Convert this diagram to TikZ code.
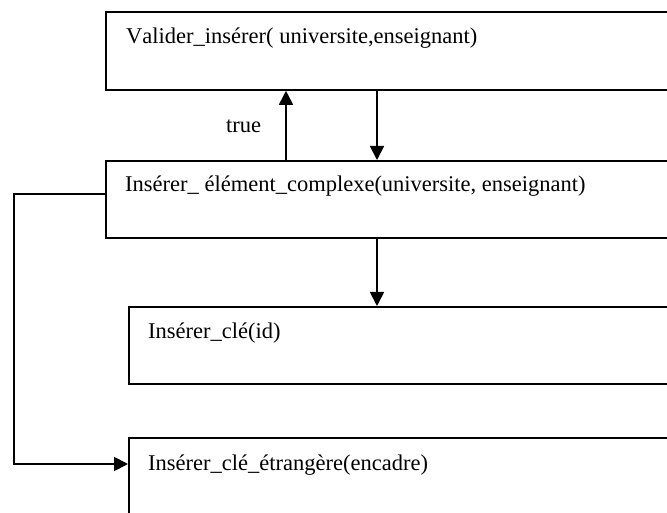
\documentclass[tikz,border=0pt]{standalone}
\usepackage{fontspec}
\setmainfont{Liberation Serif}[Kerning=Off]
\usetikzlibrary{arrows.meta}
\begin{document}
\begin{tikzpicture}[x=1pt,y=1pt,
  boxstyle/.style={draw,line width=1.8pt,rectangle,inner sep=0pt,anchor=north west,minimum width=620pt},
  txt/.style={anchor=base west,inner sep=0pt,font=\fontsize{22.5pt}{27pt}\selectfont},
  arr/.style={line width=1.8pt,-{Triangle[length=14pt,width=14pt]}},
  wire/.style={line width=1.8pt}]
\clip (0,0) rectangle (667,512);
\fill[white] (0,0) rectangle (667,512);

% boxes (they run past the right edge and, for the last one, the bottom edge)
\node[boxstyle,minimum height=78pt] (b1) at (105,501) {};
\node[boxstyle,minimum height=77pt] (b2) at (105,352) {};
\node[boxstyle,minimum height=77pt] (b3) at (128,206) {};
\node[boxstyle,minimum height=100pt] (b4) at (128,75) {};

% box captions
\node[txt] (t1) at (126,468) {Valider\_insérer( universite,enseignant)};
\node[txt] (t2) at (125,320) {Insérer\_ élément\_complexe(universite, enseignant)};
\node[txt] (t3) at (148,173) {Insérer\_clé(id)};
\node[txt] (t4) at (148,42) {Insérer\_clé\_étrangère(encadre)};
\node[txt] (ttrue) at (226,379) {true};

% guide points for the vertical connectors and the loop
\coordinate (upx) at (286,0);
\coordinate (downx) at (377,0);
\coordinate (loopy) at (0,318);
\coordinate (loopx) at (14,0);
\coordinate (bottomy) at (0,48);

\draw[arr] (b2.north -| upx) -- (b1.south -| upx);
\draw[arr] (b1.south -| downx) -- (b2.north -| downx);
\draw[arr] (b2.south -| downx) -- (b3.north -| downx);
\draw[arr] (b2.west |- loopy) -| (loopx |- bottomy) -- (b4.west |- bottomy);
\end{tikzpicture}
\end{document}
